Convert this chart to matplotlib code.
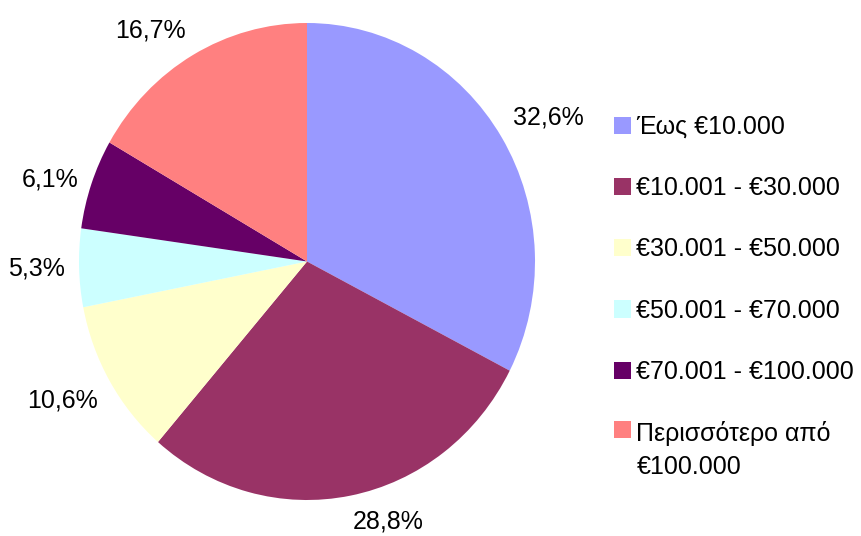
import matplotlib
matplotlib.use("Agg")
import numpy as np
import matplotlib.pyplot as plt
from matplotlib.patches import Patch

plt.rcParams['font.family'] = ['Liberation Sans', 'DejaVu Sans']

categories = ["Έως €10.000", "€10.001 - €30.000", "€30.001 - €50.000",
              "€50.001 - €70.000", "€70.001 - €100.000", "Περισσότερο από\n€100.000"]
values = [32.6, 28.8, 10.6, 5.3, 6.1, 16.7]
colors = ["#9999FF", "#993366", "#FFFFCC", "#CCFFFF", "#660066", "#FF8080"]

labels = [f"{v:.1f}%".replace('.', ',') for v in values]

fig = plt.figure(figsize=(8.61, 5.36), dpi=100)
W, H = 861, 536
# pie ellipse spans x 79..535, y 23..500 (pixels from top)
ax = fig.add_axes([79 / W, (H - 500) / H, 456 / W, 477 / H])
wedges, _ = ax.pie(values, colors=colors, startangle=90, counterclock=False,
                   wedgeprops=dict(linewidth=0))
ax.set_aspect('auto')
ax.set_xlim(-1, 1)
ax.set_ylim(-1, 1)
ax.axis('off')

d = 1.06
for w, lab in zip(wedges, labels):
    th = np.deg2rad((w.theta1 + w.theta2) / 2)
    c, s = np.cos(th), np.sin(th)
    ha = 'left' if c > 0 else 'right'
    va = 'bottom' if s > 0.45 else ('top' if s < -0.45 else 'center')
    ax.text(d * c, d * s, lab, ha=ha, va=va, fontsize=18, color='black', clip_on=False)

handles = [Patch(facecolor=c, edgecolor='none') for c in colors]
leg = fig.legend(handles, categories, loc='upper left',
                 bbox_to_anchor=(614 / W, 1 - 115 / H),
                 frameon=False, fontsize=18,
                 handlelength=0.68, handleheight=0.68, handletextpad=0.22,
                 labelspacing=1.49, borderpad=0, borderaxespad=0)
leg.get_texts()[-1].set_linespacing(1.47)
try:
    col = leg._legend_handle_box.get_children()[0]
    col.get_children()[-1].align = "top"
except Exception:
    pass

fig.savefig("out.png", dpi=100)
